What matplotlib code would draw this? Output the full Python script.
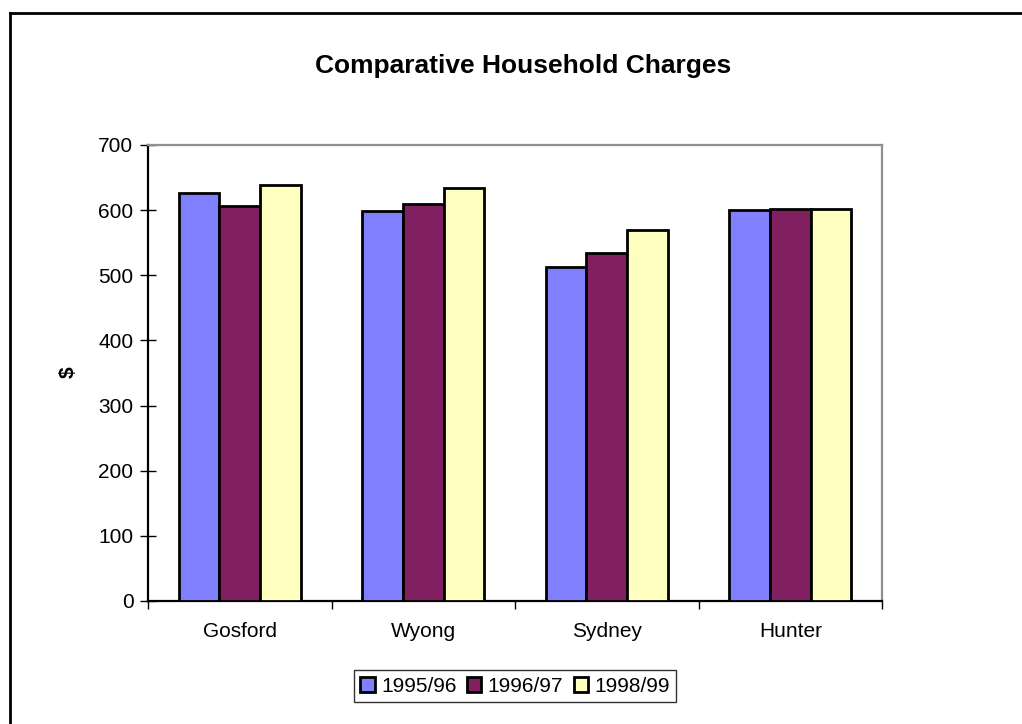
import numpy as np
import matplotlib
matplotlib.use("Agg")
import matplotlib.pyplot as plt
from matplotlib.lines import Line2D

plt.rcParams['font.family'] = ['Liberation Sans', 'DejaVu Sans']

# data
regions = ["Gosford", "Wyong", "Sydney", "Hunter"]
years = ["1995/96", "1996/97", "1998/99"]
charges_9596 = [626, 598, 512, 600]
charges_9697 = [606, 610, 534, 602]
charges_9899 = [639, 634, 569, 601]
colors = ["#8080FF", "#802060", "#FFFFC0"]

fig = plt.figure(figsize=(10.22, 7.24), dpi=100)
ax = fig.add_axes([148 / 1022, 1 - 601 / 724, 734 / 1022, 456 / 724])

x = np.arange(len(regions))
w = 0.222
for k, vals in enumerate([charges_9596, charges_9697, charges_9899]):
    ax.bar(x + (k - 1) * w, vals, width=w, color=colors[k],
           edgecolor="black", linewidth=2, label=years[k], zorder=3)

ax.set_xlim(-0.5, len(regions) - 0.5)
ax.set_ylim(0, 700)
ax.set_yticks(range(0, 701, 100))
ax.set_xticks(np.arange(-0.5, len(regions), 1.0))
ax.set_xticklabels([])
ax.set_xticks(x, minor=True)
ax.set_xticklabels(regions, minor=True, fontsize=15)
ax.tick_params(axis="x", which="minor", length=0, pad=15)
ax.tick_params(axis="x", which="major", direction="out", length=6, width=1)
ax.tick_params(axis="y", direction="inout", length=11, width=1, labelsize=15, pad=5)

ax.spines["left"].set_color("black")
ax.spines["bottom"].set_color("black")
ax.spines["top"].set_color("#909090")
ax.spines["right"].set_color("#909090")
for s in ax.spines.values():
    s.set_linewidth(1.6)

fig.text(523 / 1022, 1 - 66 / 724, "Comparative Household Charges",
         ha="center", va="center", fontsize=19, fontweight="bold")
fig.text(68 / 1022, 1 - 372 / 724, "$", ha="center", va="center",
         rotation=90, fontsize=15, fontweight="bold")

leg = fig.legend(loc="center", bbox_to_anchor=(515 / 1022, 1 - 686 / 724), ncol=3,
                 fontsize=15, frameon=True, fancybox=False, shadow=False,
                 handlelength=0.7, handleheight=0.7, handletextpad=0.3,
                 columnspacing=0.5, borderpad=0.3, borderaxespad=0)
leg.get_frame().set_edgecolor("black")
leg.get_frame().set_linewidth(1.0)

# chart border (only left and top are inside the picture)
fig.add_artist(Line2D([10 / 1022, 10 / 1022], [0, 1 - 13 / 724], color="black", lw=2))
fig.add_artist(Line2D([10 / 1022, 1], [1 - 13 / 724, 1 - 13 / 724], color="black", lw=2))

fig.savefig("out.png", dpi=100)
